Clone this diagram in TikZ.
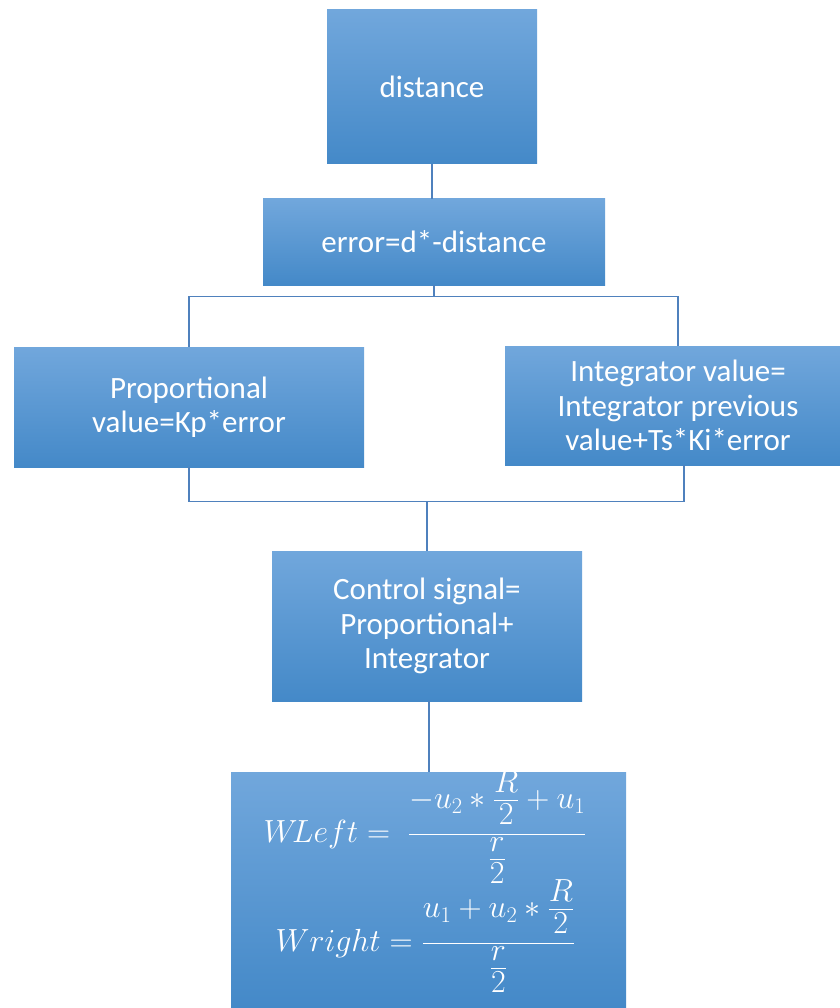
\RequirePackage{fix-cm}
\documentclass[tikz,border=0pt]{standalone}
\usepackage{amsmath}
\usepackage{fontspec}
\setmainfont{Carlito}
% tighter display fractions for the wheel-speed formulas
\newcommand\tightfracs{\fontdimen8\textfont2=16pt \fontdimen11\textfont2=16pt }
% extra room between a nested numerator and the main bar
\newcommand\numgap{\rule[-22pt]{0pt}{1pt}}
\begin{document}
\begin{tikzpicture}[x=1pt,y=-1pt,
  blk/.style={rectangle, inner sep=0pt, align=center, text=white,
    top color=boxtop, middle color=boxmid, bottom color=boxbot,
    font=\fontsize{31}{34.5}\selectfont},
  link/.style={draw=linkblue, line width=1.3pt},
  eqn/.style={text=white, inner sep=0pt, anchor=base,
    font=\fontsize{32}{36}\selectfont}]
\definecolor{boxtop}{RGB}{113,167,220}
\definecolor{boxmid}{RGB}{88,155,218}
\definecolor{boxbot}{RGB}{68,137,200}
\definecolor{linkblue}{RGB}{79,129,189}
\useasboundingbox (0,0) rectangle (839,1008);

% process blocks
\node[blk, minimum width=210pt, minimum height=154pt] (dist) at (432,87) {distance};
\node[blk, minimum width=342pt, minimum height=86pt] (err) at (434,242) {error=d*-distance};
\node[blk, minimum width=350pt, minimum height=120pt] (prop) at (189,407) {Proportional\\value=Kp*error};
\node[blk, minimum width=346pt, minimum height=119pt] (integ) at (678,405.5) {Integrator value=\\Integrator previous\\value+Ts*Ki*error};
\node[blk, minimum width=310pt, minimum height=150pt] (ctrl) at (427,626) {Control signal=\\Proportional+\\Integrator};
\node[blk, minimum width=395pt, minimum height=236pt] (wheel) at (428.5,890) {};

% wheel speed equations
\node[eqn] (wl) at (425,842) {$\tightfracs W\!Left =\; \dfrac{-u_2 \ast \dfrac{R}{2} + u_1\numgap}{\dfrac{r}{2}}$};
\node[eqn] (wr) at (425.5,951) {$\tightfracs Wright = \dfrac{u_1 + u_2 \ast \dfrac{R}{2}\numgap}{\dfrac{r}{2}}$};

% connectors
\coordinate (split) at (434,296.5);
\coordinate (merge) at (427,501.5);
\draw[link] (dist.south) -- (dist.south |- err.north);
\draw[link] (err.south) -- (split);
\draw[link] (split) -| (prop.north);
\draw[link] (split) -| (integ.north);
\draw[link] (prop.south) |- (merge);
\draw[link] ([xshift=6pt]integ.south) |- (merge);
\draw[link] (merge) -- (ctrl.north);
\draw[link] ([xshift=2pt]ctrl.south) -- ([xshift=2pt]ctrl.south |- wheel.north);
\end{tikzpicture}
\end{document}
